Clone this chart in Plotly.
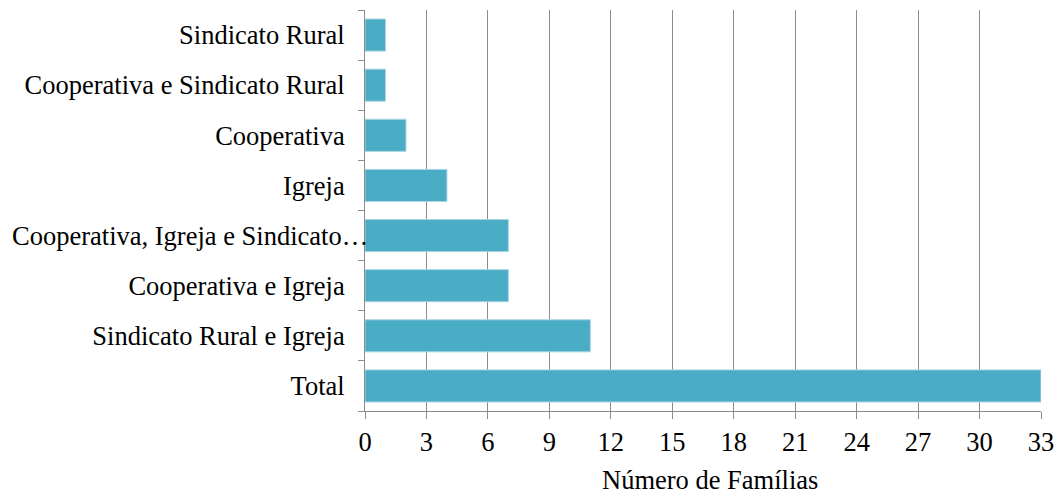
import plotly.graph_objects as go

categories = ["Total", "Sindicato Rural e Igreja", "Cooperativa e Igreja",
              "Cooperativa, Igreja e Sindicato…", "Igreja", "Cooperativa",
              "Cooperativa e Sindicato Rural", "Sindicato Rural"]
values = [33, 11, 7, 7, 4, 2, 1, 1]
x_ticks = list(range(0, 34, 3))
long_label = categories[3]
x_title = "Número de Famílias"

fig = go.Figure(go.Bar(
    y=categories, x=values, orientation="h",
    marker=dict(color="#4BACC6", line=dict(color="#a9d5e1", width=1)),
))

font = dict(family="Liberation Serif", size=26.5, color="#000000")
ytext = ["" if c == long_label else c for c in categories]

fig.update_layout(
    width=1062, height=497,
    margin=dict(l=365, r=21, t=10, b=86),
    plot_bgcolor="white", paper_bgcolor="white",
    font=font, bargap=0.36, showlegend=False,
    xaxis=dict(range=[0, 33], tickvals=x_ticks, ticktext=[str(v) for v in x_ticks],
               showgrid=True, gridcolor="#8c8c8c", gridwidth=1,
               showline=True, linecolor="#8c8c8c", linewidth=1,
               ticks="outside", ticklen=7, tickcolor="#8c8c8c",
               zeroline=False, tickfont=font, automargin=False),
    yaxis=dict(type="category", categoryorder="array", categoryarray=categories,
               tickvals=categories, ticktext=ytext,
               showgrid=False, showline=True, linecolor="#8c8c8c", linewidth=1,
               ticks="outside", ticklen=6, tickcolor="#8c8c8c", tickson="boundaries",
               ticklabelstandoff=14, tickfont=font, automargin=False),
)
fig.add_annotation(text=long_label, xref="paper", x=0, xanchor="right", xshift=4,
                   yref="y", y=long_label, yanchor="middle", showarrow=False,
                   font=font, borderpad=0)
fig.add_annotation(text=x_title, xref="paper", x=0.5, xshift=7, xanchor="center",
                   yref="paper", y=0, yanchor="top", yshift=-53, showarrow=False,
                   font=font, borderpad=0)
fig.write_html("out.html", config={"displayModeBar": False},
               post_script="document.body.style.margin='0';document.body.style.padding='0';")
